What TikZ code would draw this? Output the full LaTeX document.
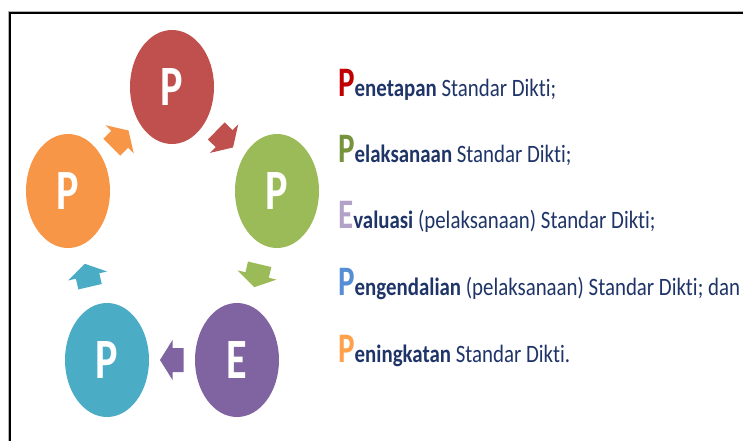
\documentclass[tikz,border=0pt]{standalone}
\usepackage{fontspec}
\setmainfont{Carlito}[Ligatures={NoCommon}]
\usetikzlibrary{shapes.geometric,calc}
\definecolor{cRed}{HTML}{C0504D}
\definecolor{cGreen}{HTML}{9BBB59}
\definecolor{cPurple}{HTML}{8064A2}
\definecolor{cCyan}{HTML}{4BACC6}
\definecolor{cOrange}{HTML}{F79646}
\definecolor{tRed}{HTML}{C00000}
\definecolor{tGreen}{HTML}{77933C}
\definecolor{tLav}{HTML}{B3A2C7}
\definecolor{tBlue}{HTML}{558ED5}
\definecolor{tOrange}{HTML}{FFA04A}
\definecolor{navy}{HTML}{1F3468}
\newcommand{\bigL}[2]{\scalebox{0.74}[1]{\fontsize{42}{42}\selectfont\bfseries\color{#1}#2}}
\newcommand{\restL}[1]{\scalebox{0.835}[1]{\fontsize{25}{25}\selectfont #1}}
\newcommand{\circL}[1]{\scalebox{0.74}[1]{\fontsize{57}{57}\selectfont\bfseries #1}}
\begin{document}
\begin{tikzpicture}[x=1pt,y=-1pt,
  circ/.style={ellipse, fill=#1, minimum width=84pt, minimum height=114pt, inner sep=0pt, text=white},
  lbl/.style={anchor=base west, inner sep=0pt, text=navy}]
\useasboundingbox[fill=white] (0,0) rectangle (743,441);
% frame
\draw[gray!60, line width=1pt] (8,441) -- (8,11.5) -- (743,11.5);
\draw[black, line width=2pt] (10,441) -- (10,13.5) -- (743,13.5);
% circles
\node[circ=cRed]    (r) at (172,87)  {\circL{P}};
\node[circ=cGreen]  (g) at (277,191) {\circL{P}};
\node[circ=cPurple] (e) at (237,360) {\circL{E}};
\node[circ=cCyan]   (c) at (107,360) {\circL{P}};
\node[circ=cOrange] (o) at (68,191)  {\circL{P}};
% block arrows
\foreach \a/\b/\col/\m in {r/g/cRed/m1, g/e/cGreen/m2, e/c/cPurple/m3, c/o/cCyan/m4, o/r/cOrange/m5}{
  \coordinate (\m) at ($(\a)!0.5!(\b)$);
  \coordinate (\m t) at ($(\m)!-11.5pt!(\b)$);
  \coordinate (\m n) at ($(\m)!-0.5pt!(\b)$);
  \coordinate (\m p) at ($(\m)!12pt!(\b)$);
  \fill[\col] ($(\m t)!12pt!90:(\b)$) -- ($(\m n)!12pt!90:(\b)$) -- ($(\m n)!20pt!90:(\b)$)
    -- (\m p) -- ($(\m n)!20pt!-90:(\b)$) -- ($(\m n)!12pt!-90:(\b)$) -- ($(\m t)!12pt!-90:(\b)$) -- cycle;
}
% text
\node[lbl] (t1) at (338,96)  {\bigL{tRed}{P}\restL{\textbf{enetapan} Standar Dikti;}};
\node[lbl] (t2) at (338,162) {\bigL{tGreen}{P}\restL{\textbf{elaksanaan} Standar Dikti;}};
\node[lbl] (t3) at (338,228) {\bigL{tLav}{E}\restL{\textbf{valuasi} (pelaksanaan) Standar Dikti;}};
\node[lbl] (t4) at (338,295) {\bigL{tBlue}{P}\restL{\textbf{engendalian} (pelaksanaan) Standar Dikti; dan}};
\node[lbl] (t5) at (338,362) {\bigL{tOrange}{P}\restL{\textbf{eningkatan} Standar Dikti.}};
\end{tikzpicture}
\end{document}
